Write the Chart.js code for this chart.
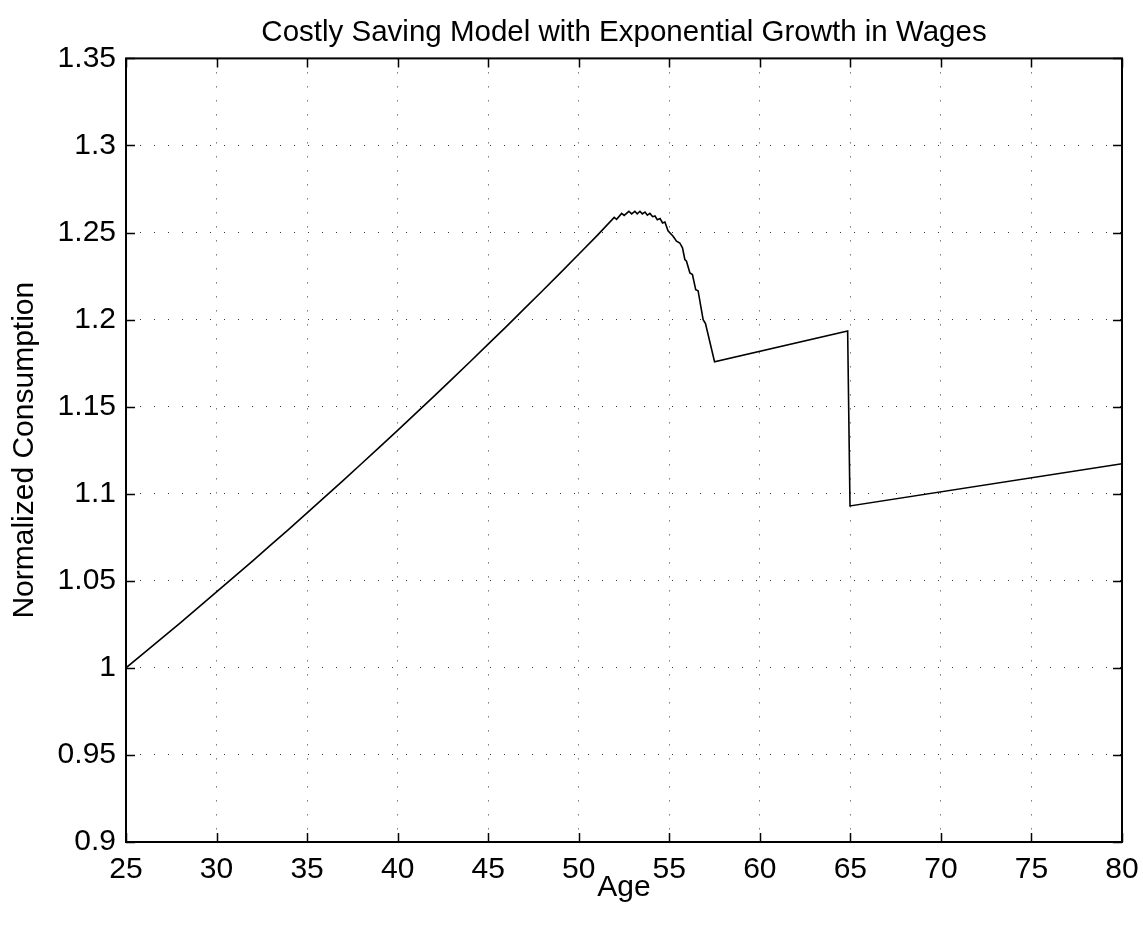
<!DOCTYPE html>
<html>
<head>
<meta charset="utf-8">
<title>Costly Saving Model with Exponential Growth in Wages</title>
<script src="https://cdn.jsdelivr.net/npm/chart.js@4/dist/chart.umd.min.js"></script>
<style>
  body { margin: 0; background: #fff; }
  canvas { display: block; }
</style>
</head>
<body>
<canvas id="chart" width="1143" height="926"></canvas>
<script>
// values
const ages = [
  25, 26, 27, 28, 29, 30, 31, 32, 33, 34, 35, 36, 37, 38, 39, 40, 41, 42, 43, 44,
  45, 46, 47, 48, 49, 50, 51,
  51.96, 52.09, 52.37, 52.51, 52.77, 52.92, 53.1, 53.23, 53.38, 53.51,
  53.66, 53.79, 53.93, 54.08, 54.21, 54.34, 54.49, 54.63, 54.76, 54.93,
  55.21, 55.4, 55.58, 55.73, 55.86, 55.95, 56.14, 56.28, 56.46, 56.59,
  56.87, 57.0, 57.5, 64.85, 64.98, 80
];
const consumption = [
  1.0000, 1.0086, 1.0172, 1.0259, 1.0347, 1.0436, 1.0525, 1.0615, 1.0706, 1.0797,
  1.0890, 1.0983, 1.1077, 1.1172, 1.1268, 1.1364, 1.1461, 1.1559, 1.1658, 1.1758,
  1.1859, 1.1960, 1.2063, 1.2166, 1.2270, 1.2375, 1.2481,
  1.2587, 1.2576, 1.2610, 1.2598, 1.2622, 1.2607, 1.2622, 1.2607, 1.2622, 1.2607,
  1.2618, 1.2600, 1.2610, 1.2591, 1.2595, 1.2574, 1.2580, 1.2555, 1.2560, 1.2510,
  1.2479, 1.2450, 1.2440, 1.2412, 1.2345, 1.2335, 1.2268, 1.2259, 1.2172, 1.2166,
  1.2000, 1.1977, 1.1758, 1.1935, 1.0930, 1.1172
];
const xTicks = [25, 30, 35, 40, 45, 50, 55, 60, 65, 70, 75, 80];
const yTicks = [0.9, 0.95, 1, 1.05, 1.1, 1.15, 1.2, 1.25, 1.3, 1.35];

Chart.defaults.font.family = "'Liberation Sans', Arial, Helvetica, sans-serif";
Chart.defaults.color = "#000";

// box round the plot and short tick marks pointing inwards
const boxTicks = {
  id: "boxTicks",
  afterDraw(chart) {
    const { ctx, chartArea: a, scales } = chart;
    const len = 9;
    ctx.save();
    ctx.strokeStyle = "#000";
    ctx.lineWidth = 1.5;
    ctx.beginPath();
    xTicks.forEach((t) => {
      const px = Math.round(scales.x.getPixelForValue(t)) + 0.5;
      ctx.moveTo(px, a.bottom); ctx.lineTo(px, a.bottom - len);
      ctx.moveTo(px, a.top); ctx.lineTo(px, a.top + len);
    });
    yTicks.forEach((t) => {
      const py = Math.round(scales.y.getPixelForValue(t)) + 0.5;
      ctx.moveTo(a.left, py); ctx.lineTo(a.left + len, py);
      ctx.moveTo(a.right, py); ctx.lineTo(a.right - len, py);
    });
    ctx.stroke();
    ctx.lineWidth = 2;
    ctx.strokeRect(a.left, a.top, a.right - a.left, a.bottom - a.top);
    ctx.restore();
  },
};

const ctx = document.getElementById("chart").getContext("2d");
new Chart(ctx, {
  type: "line",
  data: {
    datasets: [
      {
        data: ages.map((a, i) => ({ x: a, y: consumption[i] })),
        borderColor: "#000",
        borderWidth: 1.6,
        pointRadius: 0,
        tension: 0,
        fill: false,
      },
    ],
  },
  options: {
    responsive: false,
    animation: false,
    layout: { padding: { left: 0, right: 21, top: 0, bottom: 0 } },
    plugins: {
      legend: { display: false },
      tooltip: { enabled: false },
      title: {
        display: true,
        fullSize: false,
        text: "Costly Saving Model with Exponential Growth in Wages",
        font: { size: 29.5, weight: "normal" },
        color: "#000",
        padding: { top: 15, bottom: 8 },
      },
    },
    scales: {
      x: {
        type: "linear",
        min: 25,
        max: 80,
        afterBuildTicks: (s) => { s.ticks = xTicks.map((v) => ({ value: v })); },
        afterFit: (s) => { s.height = 84; s.paddingLeft = 0; s.paddingRight = 0; },
        ticks: { font: { size: 30 }, padding: 10, maxRotation: 0, callback: (v) => String(v) },
        grid: { color: "rgba(0,0,0,0.8)", lineWidth: 1, drawTicks: false },
        border: { display: false, dash: [1, 13] },
        title: { display: true, text: "Age", font: { size: 30 }, padding: { top: 0, bottom: 20 } },
      },
      y: {
        type: "linear",
        min: 0.9,
        max: 1.35,
        afterBuildTicks: (s) => { s.ticks = yTicks.map((v) => ({ value: v })); },
        afterFit: (s) => { s.width = 126; s.paddingTop = 0; s.paddingBottom = 0; },
        ticks: { font: { size: 30 }, padding: 10, callback: (v) => String(Number(v.toFixed(2))) },
        grid: { color: "rgba(0,0,0,0.8)", lineWidth: 1, drawTicks: false },
        border: { display: false, dash: [1, 13] },
        title: { display: true, text: "Normalized Consumption", font: { size: 30 }, padding: { top: 7, bottom: 0 } },
      },
    },
  },
  plugins: [boxTicks],
});
</script>
</body>
</html>
